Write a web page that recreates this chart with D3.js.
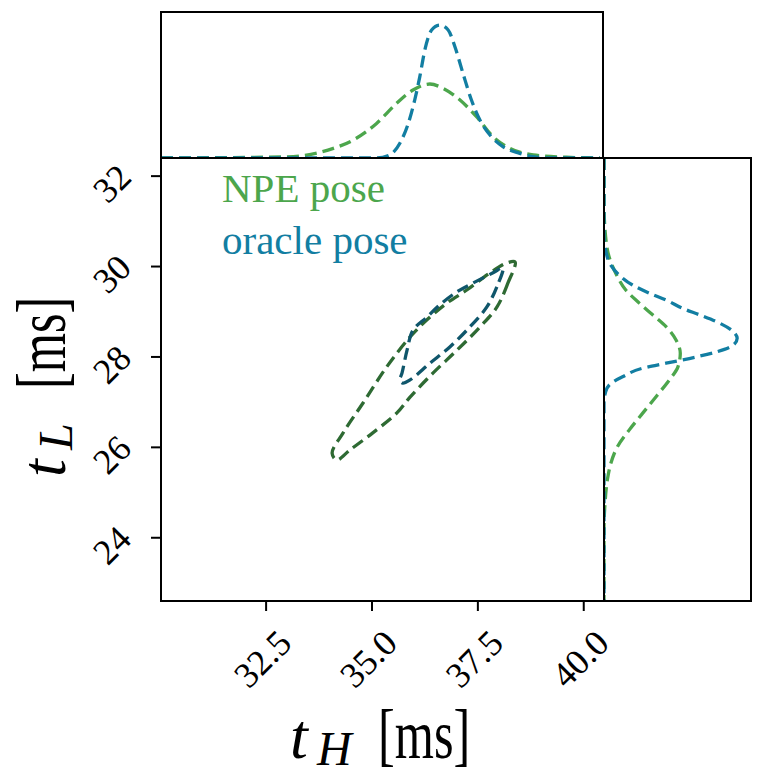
<!DOCTYPE html>
<html>
<head>
<meta charset="utf-8">
<script src="https://cdn.jsdelivr.net/npm/d3@7"></script>
<style>
  html, body { margin: 0; padding: 0; background: #fff; }
  svg { display: block; }
  text { font-family: "Liberation Serif", "DejaVu Serif", serif; }
</style>
</head>
<body>
<svg id="chart" width="763" height="784"></svg>
<script>
// ---------------- data ----------------
const seriesNames = ["NPE pose", "oracle pose"];
const seriesColors = ["#4ca64c", "#127ea2"];
const contourColors = ["#2e6a33", "#0f566b"];

const xTicks = [32.5, 35.0, 37.5, 40.0];
const yTicks = [24, 26, 28, 30, 32];

// top marginal densities (t_H) — [t_H, relative density]
const npeTopX   = [30.03, 32.91, 33.31, 34.10, 34.57, 35.12, 35.59, 35.98, 36.38, 36.69, 37.09, 37.48, 37.87, 38.27, 38.82, 39.60, 40.39];
const npeTopD   = [0.000, 0.007, 0.014, 0.066, 0.123, 0.237, 0.374, 0.466, 0.507, 0.477, 0.397, 0.283, 0.146, 0.066, 0.021, 0.005, 0.000];
const oracleTopX = [30.03, 34.50, 35.12, 35.43, 35.67, 35.87, 36.02, 36.14, 36.26, 36.42, 36.61, 36.81, 36.97, 37.16, 37.36, 37.56, 37.83, 38.11, 38.50, 38.81, 39.21, 40.39];
const oracleTopD = [0.000, 0.000, 0.000, 0.021, 0.101, 0.238, 0.397, 0.556, 0.740, 0.877, 0.911, 0.877, 0.762, 0.580, 0.397, 0.260, 0.146, 0.077, 0.032, 0.009, 0.000, 0.000];

// right marginal densities (t_L) — [t_L, relative density]
const npeRightY   = [32.39, 31.39, 30.65, 30.21, 29.84, 29.47, 29.18, 28.92, 28.66, 28.36, 28.07, 27.77, 27.48, 27.11, 26.74, 26.37, 26.00, 25.63, 25.27, 24.75, 24.16, 22.59];
const npeRightD   = [0.000, 0.000, 0.011, 0.034, 0.080, 0.148, 0.240, 0.331, 0.422, 0.491, 0.519, 0.503, 0.445, 0.354, 0.262, 0.171, 0.091, 0.046, 0.023, 0.007, 0.000, 0.000];
const oracleRightY = [32.39, 30.65, 30.35, 30.02, 29.80, 29.58, 29.40, 29.25, 29.06, 28.92, 28.77, 28.58, 28.40, 28.25, 28.10, 27.99, 27.85, 27.74, 27.55, 27.40, 27.22, 26.96, 22.59];
const oracleRightD = [0.000, 0.000, 0.011, 0.046, 0.103, 0.194, 0.308, 0.422, 0.537, 0.651, 0.765, 0.868, 0.906, 0.879, 0.765, 0.628, 0.422, 0.263, 0.126, 0.046, 0.011, 0.000, 0.000];

// joint contour lines (closed)
const npeContourX = [38.39, 38.22, 37.96, 37.56, 37.02, 36.45, 35.91, 35.60, 35.03, 34.49, 34.18, 34.07, 34.33, 34.80, 35.36, 35.91, 36.31, 36.78, 37.25, 37.80, 38.20];
const npeContourY = [30.09, 29.62, 29.09, 28.65, 28.14, 27.63, 27.10, 26.75, 26.31, 25.93, 25.71, 25.86, 26.31, 26.97, 27.77, 28.43, 28.81, 29.18, 29.47, 29.85, 30.07];
const oracleContourX = [38.10, 37.96, 37.72, 37.32, 36.85, 36.38, 35.91, 35.74, 35.67, 35.72, 35.84, 35.98, 36.31, 36.61, 37.02, 37.39, 37.87];
const oracleContourY = [29.96, 29.54, 29.09, 28.65, 28.21, 27.85, 27.48, 27.41, 27.48, 27.63, 28.14, 28.58, 28.87, 29.14, 29.43, 29.62, 29.85];

// ---------------- layout ----------------
const svg = d3.select("#chart");
const M = { left: 161, right: 604, top: 158, bottom: 601 };
const TOP = { top: 12, bottom: 158 };
const RIGHT = { left: 604, right: 751 };

const x = d3.scaleLinear().domain([30.03, 40.49]).range([M.left, M.right]);
const y = d3.scaleLinear().domain([22.59, 32.39]).range([M.bottom, M.top]);
const dTop = d3.scaleLinear().domain([0, 1]).range([TOP.bottom, TOP.top]);
const dRight = d3.scaleLinear().domain([0, 1]).range([RIGHT.left, RIGHT.right]);

const dash = "12,6";
const lw = 3.3;

// clip paths
const defs = svg.append("defs");
defs.append("clipPath").attr("id", "clipTop").append("rect")
  .attr("x", M.left).attr("y", TOP.top).attr("width", M.right - M.left).attr("height", TOP.bottom - TOP.top);
defs.append("clipPath").attr("id", "clipRight").append("rect")
  .attr("x", RIGHT.left).attr("y", M.top).attr("width", RIGHT.right - RIGHT.left).attr("height", M.bottom - M.top);
defs.append("clipPath").attr("id", "clipMain").append("rect")
  .attr("x", M.left).attr("y", M.top).attr("width", M.right - M.left).attr("height", M.bottom - M.top);

// ---- top marginal
const topLine = d3.line().x(d => x(d[0])).y(d => dTop(d[1])).curve(d3.curveMonotoneX);
const gTop = svg.append("g").attr("clip-path", "url(#clipTop)");
[[npeTopX, npeTopD], [oracleTopX, oracleTopD]].forEach((s, i) => {
  gTop.append("path")
    .datum(d3.zip(s[0], s[1]))
    .attr("d", topLine)
    .attr("fill", "none").attr("stroke", seriesColors[i])
    .attr("stroke-width", lw).attr("stroke-dasharray", dash);
});

// ---- right marginal
const rightLine = d3.line().x(d => dRight(d[1])).y(d => y(d[0])).curve(d3.curveMonotoneY);
const gRight = svg.append("g").attr("clip-path", "url(#clipRight)");
[[npeRightY, npeRightD], [oracleRightY, oracleRightD]].forEach((s, i) => {
  const pts = d3.zip(s[0], s[1]).sort((a, b) => y(a[0]) - y(b[0]));
  gRight.append("path")
    .datum(pts)
    .attr("d", rightLine)
    .attr("fill", "none").attr("stroke", seriesColors[i])
    .attr("stroke-width", lw).attr("stroke-dasharray", dash);
});

// ---- main contours
const cLine = d3.line().x(d => x(d[0])).y(d => y(d[1])).curve(d3.curveCatmullRomClosed.alpha(0.5));
const gMain = svg.append("g").attr("clip-path", "url(#clipMain)");
[[npeContourX, npeContourY], [oracleContourX, oracleContourY]].forEach((s, i) => {
  gMain.append("path")
    .datum(d3.zip(s[0], s[1]))
    .attr("d", cLine)
    .attr("fill", "none").attr("stroke", contourColors[i])
    .attr("stroke-width", lw).attr("stroke-dasharray", dash);
});

// ---- legend text
seriesNames.forEach((n, i) => {
  svg.append("text")
    .attr("x", 222).attr("y", 202 + i * 52)
    .attr("font-size", 41)
    .attr("fill", seriesColors[i])
    .text(n);
});

// ---- axes (ticks)
const xAxis = d3.axisBottom(x).tickValues(xTicks).tickSize(10).tickFormat("");
const gx = svg.append("g").attr("transform", `translate(0,${M.bottom})`).call(xAxis);
gx.select(".domain").remove();
gx.selectAll(".tick line").attr("stroke", "#000").attr("stroke-width", 2);

const yAxis = d3.axisLeft(y).tickValues(yTicks).tickSize(10).tickFormat("");
const gy = svg.append("g").attr("transform", `translate(${M.left},0)`).call(yAxis);
gy.select(".domain").remove();
gy.selectAll(".tick line").attr("stroke", "#000").attr("stroke-width", 2);

// tick labels (rotated 45°)
xTicks.forEach(t => {
  svg.append("text")
    .attr("transform", `translate(${x(t) - 3},${659}) rotate(-45)`)
    .attr("text-anchor", "middle").attr("dominant-baseline", "central")
    .attr("font-size", 36).attr("fill", "#000")
    .text(d3.format(".1f")(t));
});
yTicks.forEach(t => {
  svg.append("text")
    .attr("transform", `translate(112,${y(t) + 8}) rotate(-45)`)
    .attr("text-anchor", "middle").attr("dominant-baseline", "central")
    .attr("font-size", 36).attr("fill", "#000")
    .text(d3.format("d")(t));
});

// ---- frames
function frame(x0, y0, x1, y1) {
  svg.append("rect").attr("x", x0).attr("y", y0).attr("width", x1 - x0).attr("height", y1 - y0)
    .attr("fill", "none").attr("stroke", "#000").attr("stroke-width", 2);
}
frame(M.left, TOP.top, M.right - 1, TOP.bottom);
frame(RIGHT.left, M.top, RIGHT.right, M.bottom);
frame(M.left, M.top, M.right, M.bottom);

// ---- axis labels: t_sub [ms], built from separate pieces around a centre point
function axisLabel(g, sub) {
  g.append("text").attr("x", -90).attr("y", 0)
    .attr("font-size", 64).attr("font-style", "italic").attr("fill", "#000").text("t");
  g.append("text").attr("x", -63).attr("y", 7)
    .attr("font-size", 48).attr("font-style", "italic").attr("fill", "#000").text(sub);
  g.append("text").attr("transform", "translate(-2,0) scale(0.72,1)")
    .attr("font-size", 70).attr("fill", "#000").text("[ms]");
}
axisLabel(svg.append("g").attr("transform", "translate(380,758)"), "H");
axisLabel(svg.append("g").attr("transform", "translate(65,387) rotate(-90)"), "L");
</script>
</body>
</html>
